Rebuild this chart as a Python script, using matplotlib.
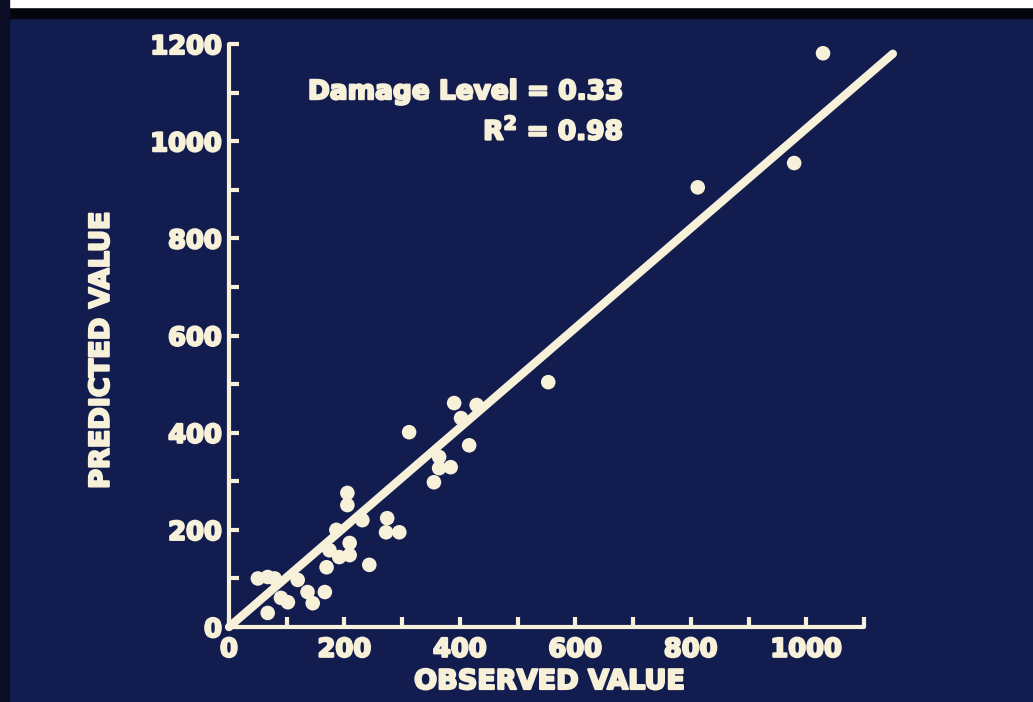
import matplotlib.pyplot as plt
import matplotlib.patheffects as pe
from matplotlib.patches import Rectangle

# observed vs predicted values
observed = [1029, 979, 812, 553, 390, 429, 402, 312, 416, 364, 384, 364, 355,
            205, 205, 231, 274, 272, 295, 186, 209, 174, 209, 191, 169, 243,
            50, 67, 79, 119, 136, 166, 145, 102, 90, 67]
predicted = [1181, 955, 905, 504, 461, 457, 430, 401, 374, 350, 329, 327, 298,
             276, 251, 220, 224, 195, 195, 200, 173, 158, 148, 144, 123, 128,
             100, 103, 100, 97, 72, 72, 49, 51, 60, 29]

# fitted line end points
fit_x = [0, 1150]
fit_y = [0, 1180]

damage_level = 0.33
r2 = 0.98

bg = "#131c4f"
fg = "#f6f1d8"

plt.rcParams["font.family"] = "DejaVu Sans"
plt.rcParams["font.weight"] = "bold"
plt.rcParams["mathtext.default"] = "bf"

# heavier lettering, like the slide's thick typeface
heavy = [pe.withStroke(linewidth=1.6, foreground=fg)]

fig = plt.figure(figsize=(10.33, 7.02), dpi=100, facecolor=bg)

# dark edges of the photographed slide
fig.patches.append(Rectangle((0, 0.975), 1, 0.025, transform=fig.transFigure,
                             color="#050510", zorder=0))
fig.patches.append(Rectangle((0, 0.99), 1, 0.01, transform=fig.transFigure,
                             color="white", zorder=0))
fig.patches.append(Rectangle((0, 0), 0.009, 1, transform=fig.transFigure,
                             color="#0a0d25", zorder=0))

ax = fig.add_axes([0.2217, 0.1068, 0.6147, 0.8305])
ax.set_facecolor(bg)

ax.plot(fit_x, fit_y, color=fg, lw=6, solid_capstyle="round", clip_on=False, zorder=3)
ax.scatter(observed, predicted, s=110, color=fg, edgecolors="none", clip_on=False, zorder=4)

ax.set_xlim(0, 1100)
ax.set_ylim(0, 1200)

ax.set_xticks(range(0, 1001, 200))
ax.set_xticks(range(100, 1101, 100), minor=True)
ax.set_yticks(range(0, 1201, 200))
ax.set_yticks(range(100, 1201, 100), minor=True)

for s in ["top", "right"]:
    ax.spines[s].set_visible(False)
for s in ["left", "bottom"]:
    ax.spines[s].set_color(fg)
    ax.spines[s].set_linewidth(3)
    ax.spines[s].set_capstyle("round")

ax.tick_params(which="both", direction="in", length=7, width=3, color=fg,
               labelcolor=fg, labelsize=18.5)
ax.tick_params(axis="y", pad=5)
ax.tick_params(axis="x", pad=7)
for lab in ax.get_xticklabels() + ax.get_yticklabels():
    lab.set_path_effects(heavy)

ax.set_xlabel("OBSERVED VALUE", color=fg, fontsize=19.5, fontweight="bold",
              path_effects=heavy)
ax.set_ylabel("PREDICTED VALUE", color=fg, fontsize=19.5, fontweight="bold",
              path_effects=heavy)
ax.xaxis.set_label_coords(0.505, -0.072)
ax.yaxis.set_label_coords(-0.18, 0.475)

ax.text(683, 1101, f"Damage Level = {damage_level:.2f}", color=fg, fontsize=19,
        fontweight="bold", ha="right", va="center", path_effects=heavy)
ax.text(683, 1020, f"R$^{{2}}$ = {r2:.2f}", color=fg, fontsize=19,
        fontweight="bold", ha="right", va="center", path_effects=heavy)

fig.savefig("out.png", dpi=100, facecolor=bg)
